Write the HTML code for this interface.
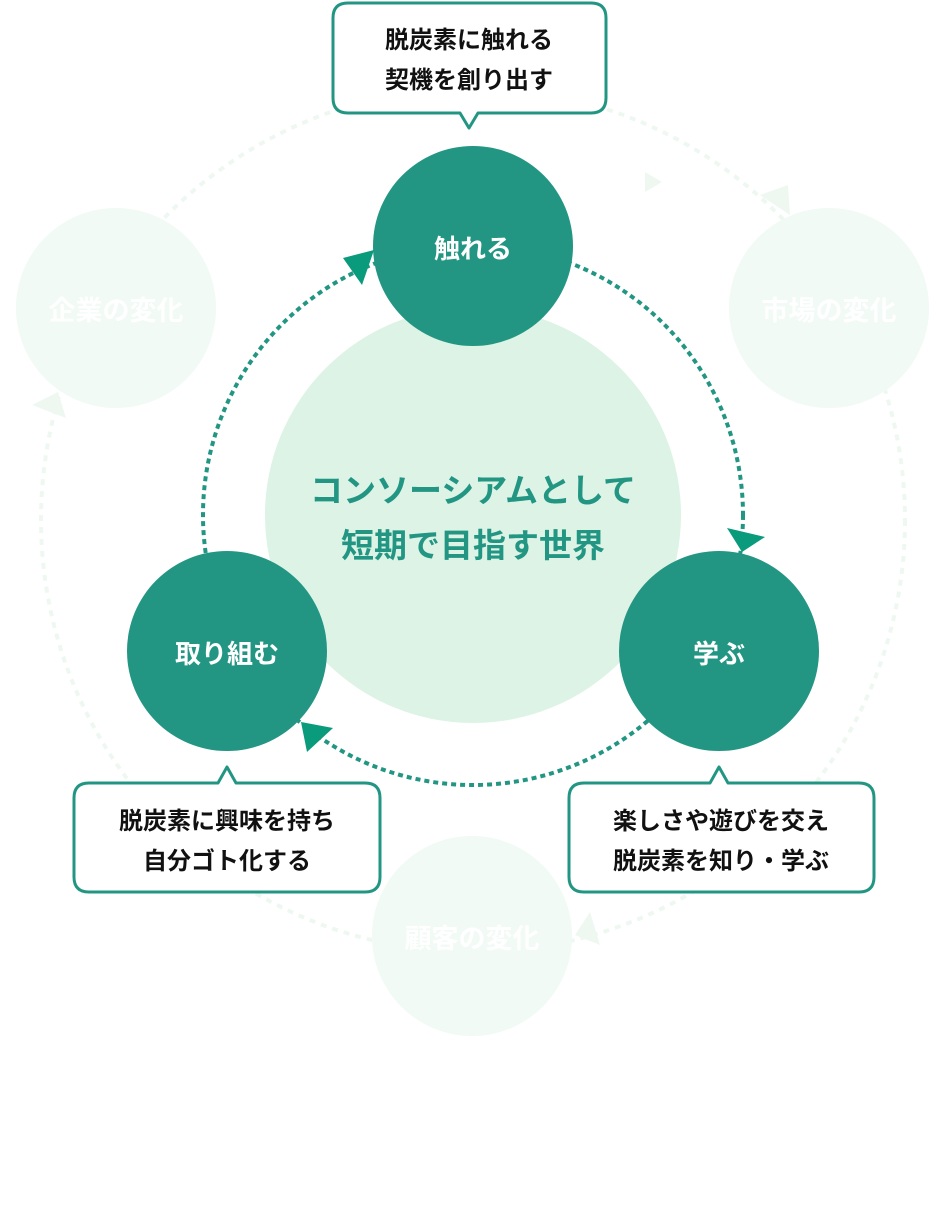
<!DOCTYPE html>
<html><head><meta charset="utf-8"><style>
html,body{margin:0;padding:0;background:#fff;width:943px;height:1230px;overflow:hidden}
svg text{font-family:"Liberation Sans","Noto Sans CJK JP",sans-serif;font-weight:bold}
</style></head><body>
<svg width="943" height="1230" viewBox="0 0 943 1230" xmlns="http://www.w3.org/2000/svg">
<circle cx="473" cy="520" r="432" fill="none" stroke="#eef8f1" stroke-width="4" stroke-dasharray="6 6"/>
<circle cx="473" cy="515" r="208" fill="#dcf3e6"/>
<circle cx="116" cy="308" r="100" fill="#f1faf4"/>
<circle cx="829" cy="308" r="100" fill="#f1faf4"/>
<circle cx="472" cy="936" r="100" fill="#f1faf4"/>
<text x="116" y="320" font-size="27" fill="#fff" text-anchor="middle">企業の変化</text>
<text x="829" y="320" font-size="27" fill="#fff" text-anchor="middle">市場の変化</text>
<text x="472" y="948" font-size="27" fill="#fff" text-anchor="middle">顧客の変化</text>
<polygon points="32,405 58,392 66,418" fill="#eef8f1"/>
<polygon points="760,195 788,185 790,215" fill="#eef8f1"/>
<polygon points="645,172 662,182 645,192" fill="#eef8f1"/>
<polygon points="575,935 590,912 600,945" fill="#eef8f1"/>
<circle cx="473" cy="515" r="270" fill="none" stroke="#229683" stroke-width="4" stroke-dasharray="5 4"/>
<circle cx="473" cy="246" r="100" fill="#229683"/>
<circle cx="719" cy="651" r="100" fill="#229683"/>
<circle cx="227" cy="651" r="100" fill="#229683"/>
<polygon points="727,528 765,537 742,552" fill="#0a9a7c"/>
<polygon points="343,258 374,250 362,285" fill="#0a9a7c"/>
<polygon points="301,722 333,728 307,752" fill="#0a9a7c"/>
<text x="473" y="258" font-size="26" fill="#fff" text-anchor="middle">触れる</text>
<text x="719" y="663" font-size="26" fill="#fff" text-anchor="middle">学ぶ</text>
<text x="227" y="663" font-size="26" fill="#fff" text-anchor="middle">取り組む</text>
<text x="473" y="502" font-size="33" fill="#229683" text-anchor="middle">コンソーシアムとして</text>
<text x="473" y="557" font-size="33" fill="#229683" text-anchor="middle">短期で目指す世界</text>
<g fill="#fff" stroke="#229683" stroke-width="3" stroke-linejoin="round">
<path d="M348,3 H591 Q606,3 606,18 V98 Q606,113 591,113 H478 L469,128 L460,113 H348 Q333,113 333,98 V18 Q333,3 348,3 Z"/>
<path d="M89,783 H218 L227,767 L236,783 H365 Q380,783 380,798 V877 Q380,892 365,892 H89 Q74,892 74,877 V798 Q74,783 89,783 Z"/>
<path d="M584,783 H710 L719,767 L728,783 H859 Q874,783 874,798 V877 Q874,892 859,892 H584 Q569,892 569,877 V798 Q569,783 584,783 Z"/>
</g>
<g font-size="24" fill="#111" text-anchor="middle">
<text x="469" y="48">脱炭素に触れる</text>
<text x="469" y="88">契機を創り出す</text>
<text x="227" y="829">脱炭素に興味を持ち</text>
<text x="227" y="869">自分ゴト化する</text>
<text x="721" y="829">楽しさや遊びを交え</text>
<text x="721" y="869">脱炭素を知り・学ぶ</text>
</g>
</svg>
</body></html>
